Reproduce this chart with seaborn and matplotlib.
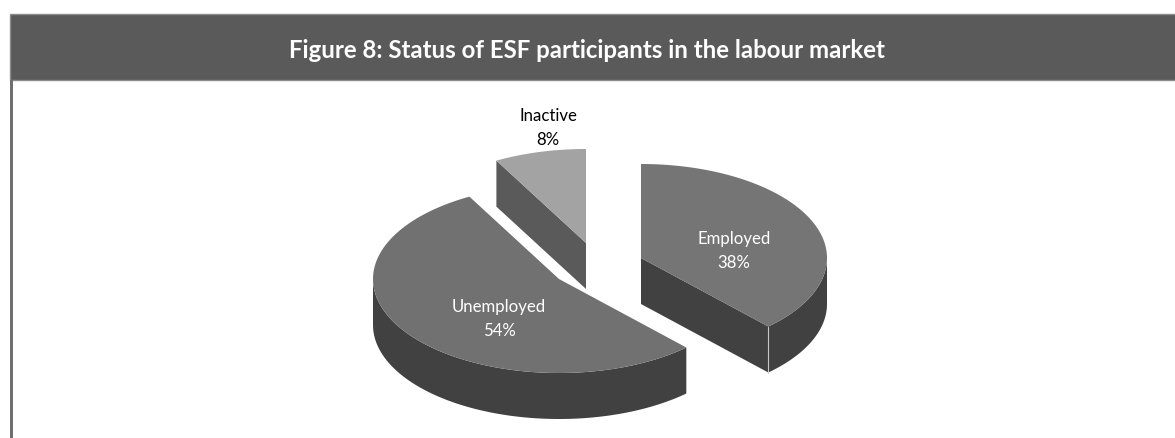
import numpy as np
import matplotlib
matplotlib.use("Agg")
import matplotlib.pyplot as plt
from matplotlib.patches import Polygon, Rectangle
import seaborn as sns

# Labour market status of participants, in percent
categories = ["Employed", "Unemployed", "Inactive"]
shares = [38, 54, 8]
title = "Figure 8: Status of ESF participants in the labour market"

sns.set_theme(style="white")
plt.rcParams["font.family"] = ["Lato", "DejaVu Sans"]

W, H = 1175, 438
fig = plt.figure(figsize=(W / 100, H / 100), dpi=100)
ax = fig.add_axes([0, 0, 1, 1])
ax.set_xlim(0, W)
ax.set_ylim(H, 0)
ax.axis("off")

# Pixel layout of the exploded slices
RX, RY, DEPTH = 186, 94, 46
layout = {
    "Employed": dict(center=(641, 258), top="#757575", wall="#414141", cut="#414141", color="white"),
    "Unemployed": dict(center=(559, 279), top="#717171", wall="#414141", cut=None, color="white"),
    "Inactive": dict(center=(586, 243), top="#a3a3a3", wall="#5a5a5a", cut="#5a5a5a", color="black"),
}
label_pos = {"Employed": (734, 251), "Unemployed": (499, 319), "Inactive": (548, 128)}

# Header band and frame
ax.add_patch(Rectangle((10, 14), W - 10 + 5, 66, fc="#5a5a5a", ec="#8c8c8c", lw=1))
ax.add_patch(Rectangle((10, 80), 3, H - 80, fc="#6f6f6f", ec="none"))
ax.text(587, 50.5, title, ha="center", va="center", color="white",
        fontsize=17.3, fontweight="bold")


def rim(cx, cy, t):
    return np.column_stack([cx + RX * np.sin(t), cy - RY * np.cos(t)])


edges = 2 * np.pi * np.cumsum([0] + shares) / sum(shares)
for name, share, t0, t1 in zip(categories, shares, edges[:-1], edges[1:]):
    st = layout[name]
    cx, cy = st["center"]
    arc = rim(cx, cy, np.linspace(t0, t1, 200))
    down = np.array([0, DEPTH])

    # Outer wall: only the part of the rim facing the viewer
    lo, hi = max(t0, np.pi / 2), min(t1, 3 * np.pi / 2)
    if hi > lo:
        front = rim(cx, cy, np.linspace(lo, hi, 200))
        ax.add_patch(Polygon(np.vstack([front, (front + down)[::-1]]),
                             fc=st["wall"], ec="none", zorder=2))

    # Radial cut face
    if st["cut"]:
        edge_t = t1 if name == "Employed" else t0
        end = rim(cx, cy, np.array([edge_t]))[0]
        apex = np.array([cx, cy], dtype=float)
        ax.add_patch(Polygon([apex, end, end + down, apex + down],
                             fc=st["cut"], ec="none", zorder=2))
        if name == "Employed":
            ax.plot([end[0], end[0]], [end[1], end[1] + DEPTH], color="#c8c8c8", lw=0.8, zorder=3)

    # Top face
    ax.add_patch(Polygon(np.vstack([[cx, cy], arc]), fc=st["top"], ec="none", zorder=4))

    x, y = label_pos[name]
    ax.text(x, y, f"{name}\n{share}%", ha="center", va="center", color=st["color"],
            fontsize=12.1, linespacing=1.55, zorder=5)

fig.savefig("out.png", dpi=100)
